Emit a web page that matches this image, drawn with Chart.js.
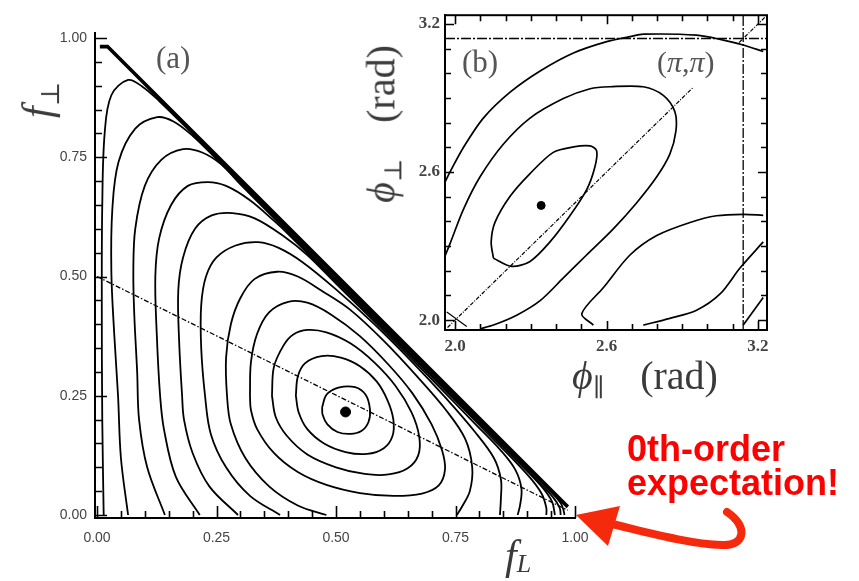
<!DOCTYPE html>
<html lang="en">
<head>
  <meta charset="UTF-8" />
  <title>Contours | f_L vs f_perp</title>
  <script src="https://cdn.jsdelivr.net/npm/chart.js"></script>
  <style>
    body { margin: 0; background: #fff; }
    #wrap { position: relative; width: 859px; height: 581px; overflow: hidden; }
    #mainChart { position: absolute; left: 0; top: 0; }
    #insetChart { position: absolute; left: 380px; top: 0; }
    .lbl { position: absolute; font-family: 'Liberation Serif', 'DejaVu Serif', serif; color: #3a3a3a; white-space: nowrap; line-height: 1; }
    .lbl sub { font-size: 0.62em; vertical-align: -0.3em; }
    .gap { margin-left: 36px; }
    .note { position: absolute; left: 627px; top: 432px; font: bold 36px 'Liberation Sans', Arial, sans-serif; color: #ff0000; line-height: 34px; }
  </style>
</head>
<body>
<div id="wrap">
  <canvas id="mainChart" width="859" height="581"></canvas>
  <canvas id="insetChart" width="400" height="365"></canvas>

  <!-- panel labels and axis titles -->
  <div class="lbl" style="left:156px; top:42px; font-size:31px; color:#555;">(a)</div>
  <div class="lbl" style="left:40px; top:100px; font-size:42px; transform:translate(-50%,-50%) rotate(-90deg);"><i>f</i><sub>⊥</sub></div>
  <div class="lbl" style="left:505px; top:534px; font-size:42px;"><i>f</i><sub style="vertical-align:-0.12em"><i>L</i></sub></div>

  <div class="lbl" style="left:462px; top:46px; font-size:31px; color:#555;">(b)</div>
  <div class="lbl" style="left:657px; top:47px; font-size:30px; color:#555;">(<i>π</i>,<i>π</i>)</div>
  <div class="lbl" style="left:384px; top:124px; font-size:40px; transform:translate(-50%,-50%) rotate(-90deg);"><i>ϕ</i><sub>⊥</sub><span class="gap">(rad)</span></div>
  <div class="lbl" style="left:572px; top:356px; font-size:40px;"><i>ϕ</i><sub>∥</sub><span class="gap">(rad)</span></div>

  <div class="note">0th-order<br>expectation!</div>
  <svg width="859" height="581" style="position:absolute;left:0;top:0;pointer-events:none">
    <path d="M727,512 C748,526 746,546 722,545 C690,544 650,533 612,524" fill="none" stroke="#f52a0c" stroke-width="8" stroke-linecap="round"/>
    <polygon points="576,515 620,506 608,546" fill="#f52a0c"/>
  </svg>
</div>

<script>
  // ---- panel (a): f_L vs f_perp ----
  const fTicks = [0, 0.05, 0.1, 0.15, 0.2, 0.25, 0.3, 0.35, 0.4, 0.45, 0.5,
                  0.55, 0.6, 0.65, 0.7, 0.75, 0.8, 0.85, 0.9, 0.95, 1.0];
  const fMajor = [0, 0.25, 0.5, 0.75, 1.0];
  const fLabels = ['0.00', '0.25', '0.50', '0.75', '1.00'];

  // physical boundary f_L + f_perp = 1
  const boundary = [[0.006, 0.982], [0.022, 0.982], [0.985, 0.017]];
  // f_perp = (1 - f_L) / 2
  const halfLine = [[0.0, 0.5], [0.985, 0.01]];
  const bestFitA = [[0.52, 0.216]];

  // contours, outer to inner
  const c1 = [[0.014,0],[0.011,0.2],[0.01,0.45],[0.011,0.65],[0.016,0.8],[0.03,0.88],[0.065,0.912],[0.095,0.898],[0.13,0.868],[0.2,0.799],[0.35,0.649],[0.5,0.499],[0.65,0.349],[0.8,0.199],[0.9,0.099],[0.95,0.048],[0.97,0.025],[0.976,0.01],[0.978,0]];
  const c2 = [[0.065,0],[0.05,0.12],[0.044,0.25],[0.036,0.38],[0.03,0.51],[0.032,0.64],[0.045,0.74],[0.08,0.81],[0.126,0.834],[0.16,0.825],[0.2,0.795],[0.25,0.746],[0.4,0.595],[0.55,0.445],[0.7,0.295],[0.85,0.145],[0.92,0.074],[0.955,0.036],[0.968,0.015],[0.97,0]];
  const c3 = [[0.142,0],[0.105,0.1],[0.088,0.2],[0.084,0.3],[0.078,0.42],[0.076,0.51],[0.08,0.6],[0.1,0.69],[0.135,0.745],[0.18,0.767],[0.22,0.76],[0.26,0.735],[0.3,0.693],[0.45,0.543],[0.6,0.393],[0.75,0.243],[0.88,0.112],[0.93,0.06],[0.952,0.028],[0.958,0]];
  const c4 = [[0.215,0],[0.165,0.08],[0.14,0.18],[0.132,0.25],[0.125,0.38],[0.122,0.5],[0.13,0.58],[0.155,0.65],[0.19,0.69],[0.232,0.698],[0.27,0.69],[0.32,0.66],[0.37,0.617],[0.4,0.589],[0.55,0.44],[0.7,0.29],[0.82,0.168],[0.9,0.085],[0.93,0.045],[0.94,0.015],[0.94,0]];
  const c5 = [[0.295,0],[0.235,0.06],[0.2,0.13],[0.182,0.2],[0.178,0.25],[0.172,0.36],[0.17,0.47],[0.18,0.54],[0.205,0.6],[0.24,0.628],[0.283,0.633],[0.33,0.622],[0.39,0.585],[0.44,0.545],[0.5,0.485],[0.6,0.386],[0.7,0.285],[0.79,0.192],[0.845,0.135],[0.875,0.095],[0.888,0.055],[0.885,0.02],[0.88,0]];
  const c6 = [[0.383,0],[0.32,0.04],[0.27,0.1],[0.238,0.17],[0.226,0.25],[0.218,0.35],[0.218,0.44],[0.228,0.5],[0.25,0.54],[0.29,0.565],[0.337,0.572],[0.38,0.56],[0.43,0.53],[0.5,0.473],[0.58,0.4],[0.66,0.32],[0.73,0.245],[0.79,0.175],[0.83,0.12],[0.845,0.075],[0.845,0.035],[0.843,0]];
  const c7 = [[0.48,0],[0.42,0.02],[0.36,0.06],[0.31,0.12],[0.28,0.19],[0.272,0.25],[0.27,0.33],[0.28,0.4],[0.3,0.455],[0.33,0.495],[0.377,0.51],[0.42,0.5],[0.47,0.47],[0.53,0.43],[0.6,0.365],[0.67,0.29],[0.73,0.22],[0.77,0.16],[0.785,0.1],[0.78,0.05],[0.765,0.02],[0.753,0]];
  const c8 = [[0.32,0.25],[0.322,0.32],[0.335,0.38],[0.36,0.425],[0.4,0.447],[0.44,0.445],[0.49,0.42],[0.55,0.375],[0.61,0.315],[0.66,0.255],[0.7,0.19],[0.722,0.135],[0.728,0.095],[0.715,0.062],[0.68,0.045],[0.62,0.04],[0.55,0.046],[0.48,0.063],[0.42,0.09],[0.37,0.13],[0.335,0.18],[0.322,0.22],[0.32,0.25]];
  const c9 = [[0.366,0.25],[0.37,0.31],[0.39,0.355],[0.41,0.378],[0.44,0.388],[0.48,0.383],[0.53,0.36],[0.58,0.32],[0.625,0.27],[0.658,0.215],[0.674,0.165],[0.672,0.125],[0.65,0.098],[0.61,0.085],[0.56,0.086],[0.5,0.1],[0.44,0.127],[0.398,0.165],[0.374,0.205],[0.366,0.25]];
  const c10 = [[0.416,0.25],[0.42,0.29],[0.435,0.318],[0.47,0.333],[0.51,0.33],[0.55,0.312],[0.585,0.28],[0.608,0.24],[0.62,0.2],[0.618,0.165],[0.6,0.14],[0.565,0.128],[0.52,0.132],[0.475,0.15],[0.44,0.18],[0.422,0.215],[0.416,0.25]];
  const c11 = [[0.471,0.226],[0.48,0.252],[0.505,0.267],[0.54,0.268],[0.562,0.252],[0.571,0.222],[0.568,0.195],[0.553,0.176],[0.53,0.17],[0.503,0.174],[0.482,0.19],[0.472,0.21],[0.471,0.226]];
  const contoursA = [c1, c2, c3, c4, c5, c6, c7, c8, c9, c10, c11];

  // ---- panel (b): phi_par vs phi_perp ----
  const phiTicks = [2.0, 2.1, 2.2, 2.3, 2.4, 2.5, 2.6, 2.7, 2.8, 2.9, 3.0, 3.1, 3.2];
  const phiMajor = [2.0, 2.6, 3.2];
  const phiLabels = ['2.0', '2.6', '3.2'];

  const bestFitB = [[2.341, 2.465]];
  const diagLow = [[1.97, 1.97], [2.945, 2.945]];
  const diagHigh = [[3.125, 3.125], [3.236, 3.236]];
  const crossMark = [[1.967, 2.033], [2.046, 1.974]];
  const piH = [[1.96, 3.1416], [3.236, 3.1416]];
  const piV = [[3.1416, 1.96], [3.1416, 3.236]];

  const b1 = [[2.152,2.251],[2.224,2.218],[2.297,2.238],[2.376,2.317],[2.455,2.423],[2.521,2.528],[2.554,2.621],[2.561,2.686],[2.535,2.706],[2.469,2.702],[2.389,2.68],[2.297,2.594],[2.218,2.502],[2.158,2.396],[2.143,2.317],[2.152,2.251]];
  const b2 = [[1.96,2.26],[1.98,2.31],[2.033,2.449],[2.099,2.581],[2.191,2.713],[2.297,2.819],[2.429,2.898],[2.535,2.938],[2.614,2.946],[2.746,2.946],[2.825,2.911],[2.871,2.845],[2.875,2.766],[2.851,2.673],[2.799,2.581],[2.719,2.475],[2.627,2.37],[2.521,2.264],[2.429,2.171],[2.337,2.079],[2.244,2.02],[2.152,1.98],[2.1,1.965]];
  const b3 = [[1.96,2.56],[1.98,2.601],[2.033,2.7],[2.112,2.819],[2.218,2.924],[2.337,3.01],[2.469,3.083],[2.601,3.129],[2.693,3.149],[2.746,3.159],[2.957,3.155],[3.063,3.135],[3.142,3.115],[3.221,3.089]];
  const b4 = [[2.548,1.98],[2.502,2.026],[2.588,2.132],[2.693,2.264],[2.799,2.343],[2.931,2.396],[3.036,2.423],[3.142,2.429],[3.221,2.425]];
  const b5 = [[2.746,1.98],[2.851,2.007],[2.957,2.04],[3.05,2.106],[3.129,2.211],[3.221,2.317]];
  const b6 = [[3.142,1.98],[3.221,2.092]];
  const contoursB = [b1, b2, b3, b4, b5, b6];

  const pts = arr => arr.map(p => ({ x: p[0], y: p[1] }));

  function lineSet(arr, width, dash, tension) {
    return {
      data: pts(arr), showLine: true, pointRadius: 0,
      borderColor: '#000', borderWidth: width, borderDash: dash || [],
      tension: tension || 0, fill: false
    };
  }

  // inward tick marks drawn through each chart's own scales
  function innerTicks(xT, yT, xMaj, yMaj, allSides, majLen, minLen) {
    return {
      id: 'innerTicks',
      afterDraw(chart) {
        const { ctx, chartArea: a, scales: { x, y } } = chart;
        const isMaj = (v, list) => list.some(m => Math.abs(m - v) < 1e-6);
        ctx.save();
        ctx.strokeStyle = '#000';
        ctx.lineWidth = 1.6;
        ctx.beginPath();
        xT.forEach(v => {
          const px = Math.round(x.getPixelForValue(v)) + 0.5;
          const L = isMaj(v, xMaj) ? majLen : minLen;
          ctx.moveTo(px, a.bottom); ctx.lineTo(px, a.bottom - L);
          if (allSides) { ctx.moveTo(px, a.top); ctx.lineTo(px, a.top + L); }
        });
        yT.forEach(v => {
          const py = Math.round(y.getPixelForValue(v)) + 0.5;
          const L = isMaj(v, yMaj) ? majLen : minLen;
          ctx.moveTo(a.left, py); ctx.lineTo(a.left + L, py);
          if (allSides) { ctx.moveTo(a.right, py); ctx.lineTo(a.right - L, py); }
        });
        ctx.stroke();
        if (allSides) {
          ctx.lineWidth = 2;
          ctx.strokeRect(a.left, a.top, a.right - a.left, a.bottom - a.top);
        }
        ctx.restore();
      }
    };
  }

  function axisOpts(min, max, tickVals, majors, labels, font, pad, fit) {
    return {
      type: 'linear', min, max,
      afterBuildTicks: s => { s.ticks = majors.map(v => ({ value: v })); },
      afterFit: fit,
      grid: { display: false, drawTicks: false },
      border: { display: true, color: '#000', width: 2 },
      ticks: {
        padding: pad, color: '#444', font,
        autoSkip: false, maxRotation: 0,
        callback: v => {
          const i = majors.findIndex(m => Math.abs(m - v) < 1e-6);
          return i >= 0 ? labels[i] : '';
        }
      }
    };
  }

  const mainSets = [];
  mainSets.push(lineSet(boundary, 3.6));
  mainSets.push(lineSet(halfLine, 1.3, [5, 2, 1.5, 2]));
  contoursA.forEach(c => mainSets.push(lineSet(c, 1.8, null, 0.35)));
  mainSets.push({ data: pts(bestFitA), pointRadius: 5, pointBackgroundColor: '#000', pointBorderColor: '#000', showLine: false });

  const tickFontA = { family: 'Liberation Sans', size: 14 };
  new Chart(document.getElementById('mainChart'), {
    type: 'scatter',
    data: { datasets: mainSets },
    options: {
      responsive: false, animation: false, devicePixelRatio: 1,
      layout: { padding: { top: 33, right: 284, bottom: 0, left: 0 } },
      plugins: { legend: { display: false }, tooltip: { enabled: false } },
      scales: {
        x: axisOpts(-0.0042, 1.0, fTicks, fMajor, fLabels, tickFontA, 12, s => { s.height = 63; }),
        y: axisOpts(-0.0063, 1.0105, fTicks, fMajor, fLabels, tickFontA, 8, s => { s.width = 95; })
      }
    },
    plugins: [innerTicks(fTicks, fTicks, fMajor, fMajor, false, 12, 7)]
  });

  const insetSets = [];
  insetSets.push(lineSet(piH, 1.3, [10, 2, 2, 2]));
  insetSets.push(lineSet(piV, 1.3, [10, 2, 2, 2]));
  insetSets.push(lineSet(diagLow, 1.2, [4, 1.5, 1, 1.5]));
  insetSets.push(lineSet(diagHigh, 1.2, [4, 1.5, 1, 1.5]));
  insetSets.push(lineSet(crossMark, 1.2));
  contoursB.forEach(c => insetSets.push(lineSet(c, 1.7, null, 0.3)));
  insetSets.push({ data: pts(bestFitB), pointRadius: 4, pointBackgroundColor: '#000', pointBorderColor: '#000', showLine: false });

  const tickFontB = { family: 'Liberation Serif', size: 17, weight: 'bold' };
  new Chart(document.getElementById('insetChart'), {
    type: 'scatter',
    data: { datasets: insetSets },
    options: {
      responsive: false, animation: false, devicePixelRatio: 1,
      layout: { padding: { top: 8, right: 13, bottom: 0, left: 0 } },
      plugins: { legend: { display: false }, tooltip: { enabled: false } },
      scales: {
        x: axisOpts(1.96, 3.236, phiTicks, phiMajor, phiLabels, tickFontB, 6, s => { s.height = 35; }),
        y: axisOpts(1.96, 3.236, phiTicks, phiMajor, phiLabels, tickFontB, 5, s => { s.width = 65; })
      }
    },
    plugins: [innerTicks(phiTicks, phiTicks, phiMajor, phiMajor, true, 9, 6)]
  });
</script>
</body>
</html>
